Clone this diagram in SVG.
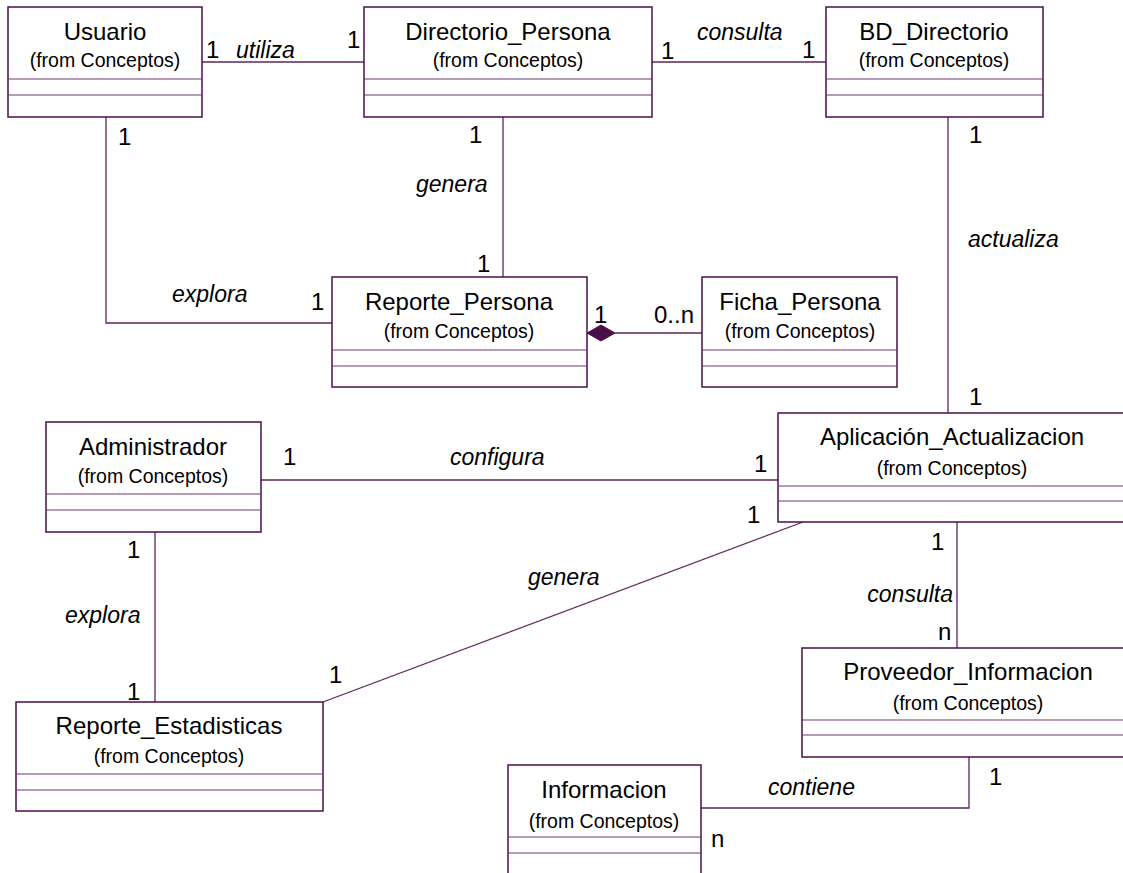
<svg xmlns="http://www.w3.org/2000/svg" width="1123" height="873" viewBox="0 0 1123 873">
<style>
.box{fill:#fff;stroke:#4a0f4a;stroke-width:1.5}
.sep{stroke:#6e3a6e;stroke-width:1.2;fill:none}
.ln{stroke:#5e245e;stroke-width:1.3;fill:none}
.t{font-family:"Liberation Sans",Arial,sans-serif;font-size:24px;fill:#000;text-anchor:middle}
.s{font-family:"Liberation Sans",Arial,sans-serif;font-size:19.5px;fill:#000;text-anchor:middle}
.lb{font-family:"Liberation Sans",Arial,sans-serif;font-size:23px;font-style:italic;fill:#000}
.m{font-family:"Liberation Sans",Arial,sans-serif;font-size:24px;fill:#000}
</style>
<rect width="1123" height="873" fill="#fff"/>
<g id="connectors">
<line class="ln" x1="202" y1="62" x2="364" y2="62"/>
<line class="ln" x1="652" y1="62" x2="826" y2="62"/>
<line class="ln" x1="503" y1="117" x2="503" y2="277"/>
<line class="ln" x1="948" y1="117" x2="948" y2="413"/>
<polyline class="ln" points="106,117 106,323 332,323"/>
<line class="ln" x1="615" y1="333" x2="702" y2="333"/>
<polygon points="587,333 601,325 615,333 601,341" fill="#4a0f4a" stroke="#4a0f4a" stroke-width="1"/>
<line class="ln" x1="261" y1="480" x2="778" y2="480"/>
<line class="ln" x1="155" y1="532" x2="155" y2="702"/>
<line class="ln" x1="323" y1="702" x2="803" y2="522"/>
<line class="ln" x1="957" y1="522" x2="957" y2="648"/>
<polyline class="ln" points="701,808 969,808 969,757"/>
<text class="m" x="206" y="58">1</text>
<text class="lb" x="236" y="58">utiliza</text>
<text class="m" x="347" y="48">1</text>
<text class="m" x="661" y="59">1</text>
<text class="lb" x="697" y="40">consulta</text>
<text class="m" x="802" y="58">1</text>
<text class="m" x="469" y="143">1</text>
<text class="lb" x="416" y="192">genera</text>
<text class="m" x="477" y="272">1</text>
<text class="m" x="969" y="143">1</text>
<text class="lb" x="968" y="247">actualiza</text>
<text class="m" x="969" y="405">1</text>
<text class="m" x="118" y="145">1</text>
<text class="lb" x="172" y="302">explora</text>
<text class="m" x="311" y="310">1</text>
<text class="m" x="594" y="323">1</text>
<text class="m" x="654" y="323">0..n</text>
<text class="m" x="283" y="465">1</text>
<text class="lb" x="450" y="465">configura</text>
<text class="m" x="754" y="472">1</text>
<text class="m" x="127" y="558">1</text>
<text class="lb" x="65" y="623">explora</text>
<text class="m" x="127" y="700">1</text>
<text class="lb" x="528" y="585">genera</text>
<text class="m" x="747" y="523">1</text>
<text class="m" x="329" y="683">1</text>
<text class="m" x="931" y="550">1</text>
<text class="lb" x="953" y="602" text-anchor="end">consulta</text>
<text class="m" x="938" y="640">n</text>
<text class="lb" x="768" y="795">contiene</text>
<text class="m" x="989" y="785">1</text>
<text class="m" x="711" y="847">n</text>
</g>
<g id="Usuario">
<rect class="box" x="8" y="7" width="194" height="110"/>
<line class="sep" x1="8" y1="79" x2="202" y2="79"/><line class="sep" x1="8" y1="95" x2="202" y2="95"/>
<text class="t" x="105" y="40">Usuario</text><text class="s" x="105" y="67">(from Conceptos)</text>
</g>
<g id="Directorio_Persona">
<rect class="box" x="364" y="7" width="288" height="110"/>
<line class="sep" x1="364" y1="79" x2="652" y2="79"/><line class="sep" x1="364" y1="95" x2="652" y2="95"/>
<text class="t" x="508" y="40">Directorio_Persona</text><text class="s" x="508" y="67">(from Conceptos)</text>
</g>
<g id="BD_Directorio">
<rect class="box" x="826" y="7" width="217" height="110"/>
<line class="sep" x1="826" y1="79" x2="1043" y2="79"/><line class="sep" x1="826" y1="95" x2="1043" y2="95"/>
<text class="t" x="934" y="40">BD_Directorio</text><text class="s" x="934" y="67">(from Conceptos)</text>
</g>
<g id="Reporte_Persona">
<rect class="box" x="332" y="277" width="255" height="110"/>
<line class="sep" x1="332" y1="350" x2="587" y2="350"/><line class="sep" x1="332" y1="366" x2="587" y2="366"/>
<text class="t" x="459" y="310">Reporte_Persona</text><text class="s" x="459" y="338">(from Conceptos)</text>
</g>
<g id="Ficha_Persona">
<rect class="box" x="702" y="277" width="195" height="110"/>
<line class="sep" x1="702" y1="350" x2="897" y2="350"/><line class="sep" x1="702" y1="366" x2="897" y2="366"/>
<text class="t" x="800" y="310">Ficha_Persona</text><text class="s" x="800" y="338">(from Conceptos)</text>
</g>
<g id="Administrador">
<rect class="box" x="46" y="422" width="215" height="110"/>
<line class="sep" x1="46" y1="494" x2="261" y2="494"/><line class="sep" x1="46" y1="510" x2="261" y2="510"/>
<text class="t" x="153" y="455">Administrador</text><text class="s" x="153" y="483">(from Conceptos)</text>
</g>
<g id="Aplicacion_Actualizacion">
<rect class="box" x="778" y="413" width="348" height="109"/>
<line class="sep" x1="778" y1="486" x2="1126" y2="486"/><line class="sep" x1="778" y1="501" x2="1126" y2="501"/>
<text class="t" x="952" y="445">Aplicación_Actualizacion</text><text class="s" x="952" y="475">(from Conceptos)</text>
</g>
<g id="Reporte_Estadisticas">
<rect class="box" x="16" y="702" width="307" height="109"/>
<line class="sep" x1="16" y1="774" x2="323" y2="774"/><line class="sep" x1="16" y1="790" x2="323" y2="790"/>
<text class="t" x="169" y="734">Reporte_Estadisticas</text><text class="s" x="169" y="763">(from Conceptos)</text>
</g>
<g id="Proveedor_Informacion">
<rect class="box" x="802" y="648" width="332" height="109"/>
<line class="sep" x1="802" y1="720" x2="1134" y2="720"/><line class="sep" x1="802" y1="735" x2="1134" y2="735"/>
<text class="t" x="968" y="680">Proveedor_Informacion</text><text class="s" x="968" y="710">(from Conceptos)</text>
</g>
<g id="Informacion">
<rect class="box" x="508" y="765" width="193" height="112"/>
<line class="sep" x1="508" y1="837" x2="701" y2="837"/><line class="sep" x1="508" y1="853" x2="701" y2="853"/>
<text class="t" x="604" y="798">Informacion</text><text class="s" x="604" y="828">(from Conceptos)</text>
</g>
</svg>
